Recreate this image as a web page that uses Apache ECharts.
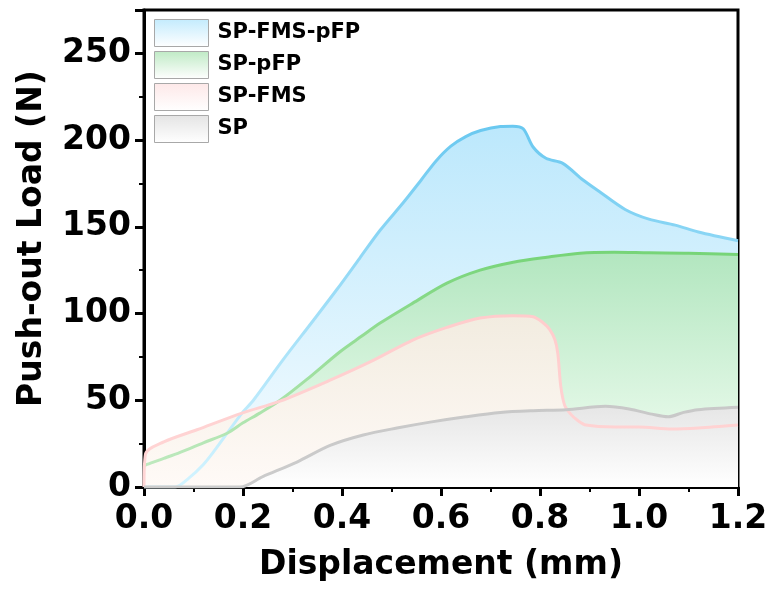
<!DOCTYPE html>
<html>
<head>
<meta charset="utf-8">
<script src="https://cdn.jsdelivr.net/npm/echarts@6/dist/echarts.min.js"></script>
<style>
  html, body { margin: 0; padding: 0; background: #fff; }
  #chart { width: 771px; height: 594px; }
</style>
</head>
<body>
<div id="chart"></div>
<script>
// ---- data ----
var seriesNames = ['SP-FMS-pFP', 'SP-pFP', 'SP-FMS', 'SP'];

var fmsPfpX = [0, 0.063, 0.09, 0.12, 0.145, 0.168, 0.198, 0.221, 0.28, 0.342, 0.39, 0.436, 0.477, 0.524, 0.56, 0.59, 0.62, 0.65, 0.68, 0.72, 0.745, 0.766, 0.786, 0.812, 0.846, 0.887, 0.919, 0.972, 1.02, 1.073, 1.12, 1.2];
var fmsPfpY = [0, 0, 5, 13, 22, 31, 42.6, 50, 73, 96, 114, 132, 148, 164, 177, 188, 196.5, 202, 205.5, 207.8, 208, 206.5, 196, 189.5, 186.6, 177, 170.5, 160, 154.4, 151, 147, 142];

var pfpX = [0, 0.006, 0.04, 0.073, 0.12, 0.168, 0.2, 0.234, 0.275, 0.329, 0.396, 0.44, 0.477, 0.543, 0.612, 0.679, 0.746, 0.814, 0.881, 0.95, 1.02, 1.1, 1.2];
var pfpY = [12, 13, 16.5, 20, 25.5, 31, 37, 42.6, 50, 62, 78, 87, 94.5, 106, 117.5, 125, 129.6, 132.5, 134.8, 135.3, 135, 134.8, 134];

var fmsX = [0, 0.003, 0.04, 0.107, 0.198, 0.275, 0.376, 0.463, 0.543, 0.612, 0.679, 0.746, 0.786, 0.805, 0.819, 0.83, 0.836, 0.842, 0.85, 0.862, 0.875, 0.893, 0.952, 1.0, 1.066, 1.12, 1.2];
var fmsY = [0, 19, 26, 33, 42.6, 49.5, 61.6, 73, 84.7, 92, 97.4, 98.8, 98.2, 95, 91, 85, 77, 58, 47, 42, 38.6, 35.7, 34.6, 34.6, 33.4, 34, 35.7];

var spX = [0, 0.194, 0.24, 0.309, 0.376, 0.443, 0.511, 0.578, 0.65, 0.72, 0.786, 0.853, 0.932, 0.98, 1.026, 1.059, 1.09, 1.119, 1.2];
var spY = [0, 0, 6, 14.4, 24, 30, 34, 37.4, 40.5, 43, 44, 44.5, 46.5, 45, 42, 40.5, 43, 44.6, 46];

var xTicks = [0, 0.2, 0.4, 0.6, 0.8, 1.0, 1.2];
var yTicks = [0, 50, 100, 150, 200, 250];

// ---- helpers ----
function pairs(xs, ys) { return xs.map(function (x, i) { return [x, ys[i]]; }); }
function vgrad(top, bottom) {
  return new echarts.graphic.LinearGradient(0, 0, 0, 1, [
    { offset: 0, color: top }, { offset: 1, color: bottom }
  ]);
}
var FONT = 'DejaVu Sans';

var styles = [
  { fillTop: '#bce8fc', fillBot: '#f6fcff', lineTop: '#69c8f0', lineBot: '#d4f4ff', legTop: '#c3ebfd' },
  { fillTop: '#b2e6bf', fillBot: '#f6fff6', lineTop: '#76d477', lineBot: '#bfe9bf', legTop: '#bfeac5' },
  { fillTop: '#f2ece0', fillBot: '#fffaf7', lineTop: '#ffcccc', lineBot: '#ffd6d6', legTop: '#fde8e8' },
  { fillTop: '#e6e6e6', fillBot: '#ffffff', lineTop: '#c8c8c8', lineBot: '#cccccc', legTop: '#e4e4e4' }
];
var datasets = [pairs(fmsPfpX, fmsPfpY), pairs(pfpX, pfpY), pairs(fmsX, fmsY), pairs(spX, spY)];

var series = [];
// area fills (beneath all lines)
datasets.forEach(function (d, i) {
  series.push({
    name: seriesNames[i] + ' area', type: 'line', data: d, smooth: 0.3,
    showSymbol: false, symbol: 'none', silent: true, z: 1 + i * 0.01,
    lineStyle: { width: 0, opacity: 0 },
    areaStyle: { color: vgrad(styles[i].fillTop, styles[i].fillBot), opacity: 1 }
  });
});
// lines on top
datasets.forEach(function (d, i) {
  series.push({
    name: seriesNames[i], type: 'line', data: d, smooth: 0.3,
    showSymbol: false, symbol: 'none', z: 3,
    lineStyle: { width: 3, color: vgrad(styles[i].lineTop, styles[i].lineBot) },
    itemStyle: { color: styles[i].lineTop }
  });
});

var chart = echarts.init(document.getElementById('chart'), null, { renderer: 'canvas' });
chart.setOption({
  animation: false,
  backgroundColor: '#ffffff',
  grid: { left: 144, right: 33, top: 10, bottom: 107, show: true, borderColor: '#000', borderWidth: 3, backgroundColor: 'transparent' },
  legend: {
    orient: 'vertical', left: 154, top: 19, padding: 0, itemWidth: 54, itemHeight: 27, itemGap: 4,
    selectedMode: false,
    textStyle: { fontFamily: FONT, fontWeight: 'bold', fontSize: 21, color: '#000', padding: [0, 0, 0, 4] },
    data: seriesNames.map(function (n, i) {
      return { name: n, icon: 'rect',
        itemStyle: { color: vgrad(styles[i].legTop, '#ffffff'), borderColor: '#a8a8a8', borderWidth: 1 } };
    })
  },
  xAxis: {
    type: 'value', min: 0, max: 1.2, interval: 0.2,
    name: 'Displacement (mm)', nameLocation: 'middle', nameGap: 62,
    nameTextStyle: { fontFamily: FONT, fontWeight: 'bold', fontSize: 33, color: '#000' },
    axisLine: { show: true, onZero: false, lineStyle: { color: '#000', width: 3 } },
    axisTick: { show: true, inside: false, length: 9, lineStyle: { color: '#000', width: 3 } },
    minorTick: { show: true, splitNumber: 2, length: 5, lineStyle: { color: '#000', width: 2 } },
    splitLine: { show: false },
    axisLabel: { margin: 16, fontFamily: FONT, fontWeight: 'bold', fontSize: 33, color: '#000',
      formatter: function (v) { return v.toFixed(1); } }
  },
  yAxis: {
    type: 'value', min: 0, max: 275, interval: 50,
    name: 'Push-out Load (N)', nameLocation: 'middle', nameGap: 95,
    nameTextStyle: { fontFamily: FONT, fontWeight: 'bold', fontSize: 33, color: '#000', padding: [0, 0, 0, 20] },
    axisLine: { show: true, onZero: false, lineStyle: { color: '#000', width: 3 } },
    axisTick: { show: true, inside: false, length: 9, lineStyle: { color: '#000', width: 3 } },
    minorTick: { show: true, splitNumber: 2, length: 5, lineStyle: { color: '#000', width: 2 } },
    splitLine: { show: false },
    axisLabel: { margin: 13, fontFamily: FONT, fontWeight: 'bold', fontSize: 33, color: '#000',
      showMaxLabel: false,
      formatter: function (v) { return yTicks.indexOf(v) >= 0 ? String(v) : ''; } }
  },
  series: series
});
</script>
</body>
</html>
